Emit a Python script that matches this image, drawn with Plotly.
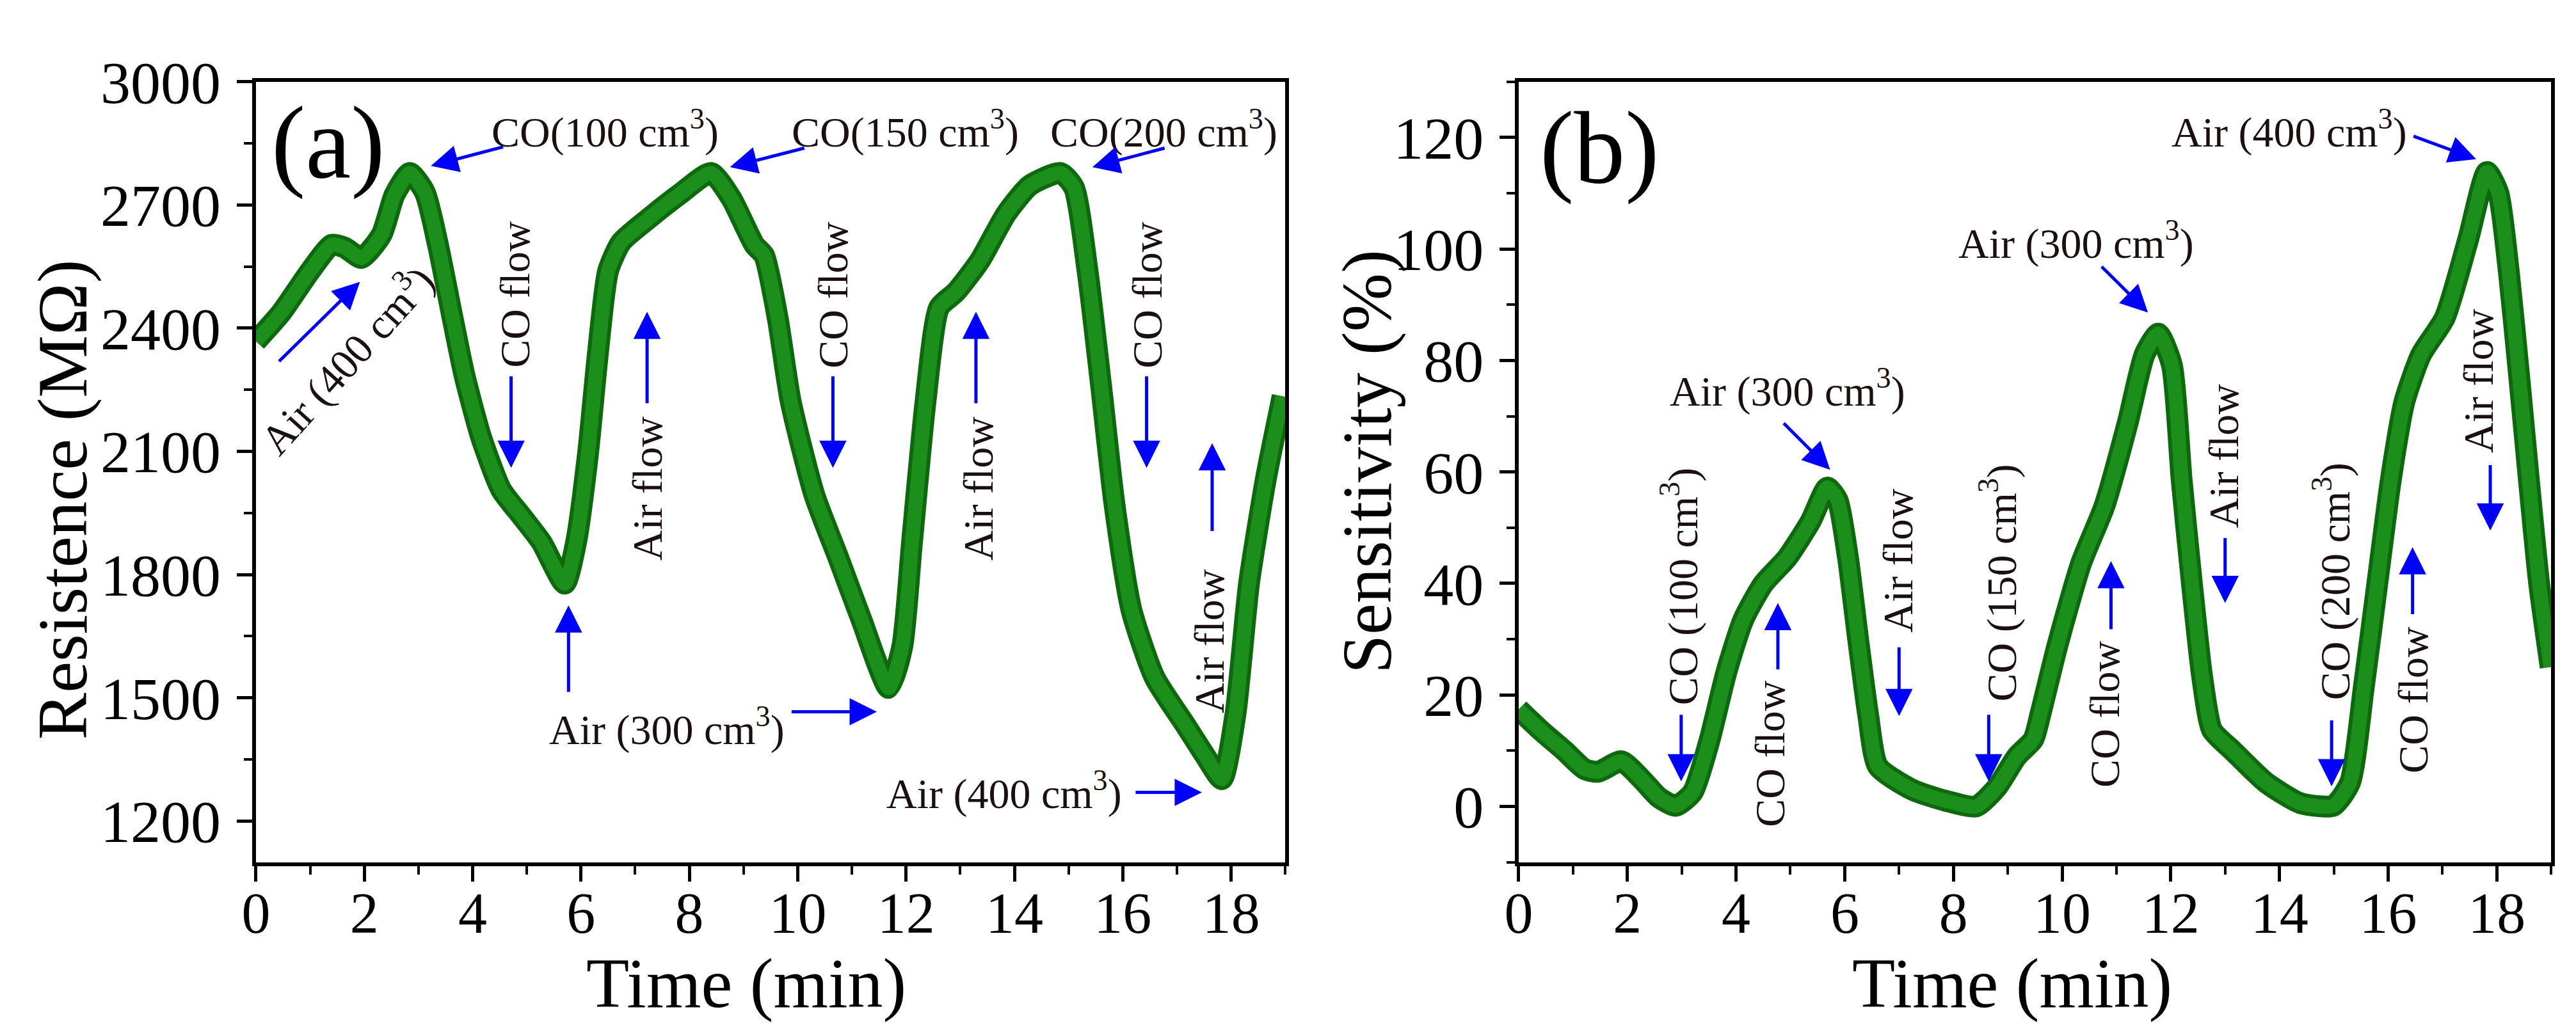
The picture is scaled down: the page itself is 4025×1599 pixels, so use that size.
import plotly.graph_objects as go

# ---- data ----
# panel (a): resistance vs time
time_a = [0, 0.47, 1.0, 1.4, 1.64, 1.95, 2.32, 2.56, 2.84, 3.12, 3.36, 3.61, 3.85, 4.16,
          4.53, 4.9, 5.27, 5.7, 5.91, 6.13, 6.31, 6.5, 6.74, 7.24, 7.85, 8.4, 8.77, 9.2,
          9.38, 9.63, 9.87, 10.31, 10.75, 11.18, 11.68, 11.93, 12.11, 12.36, 12.61, 12.92,
          13.36, 13.85, 14.29, 14.85, 15.1, 15.35, 15.6, 15.85, 16.16, 16.59, 17.15, 17.52,
          17.83, 18.08, 18.33, 18.64, 18.95]
resistance = [2368, 2438, 2539, 2603, 2596, 2571, 2628, 2725, 2778, 2730, 2603, 2438, 2285,
              2133, 2006, 1943, 1879, 1778, 1879, 2095, 2336, 2539, 2609, 2666, 2729, 2778,
              2717, 2603, 2577, 2425, 2222, 1993, 1841, 1689, 1524, 1625, 1879, 2222, 2450,
              2488, 2564, 2679, 2748, 2778, 2742, 2539, 2260, 1968, 1714, 1549, 1435, 1359,
              1302, 1460, 1778, 2032, 2234]

# panel (b): sensitivity vs time
time_b = [0, 0.4, 0.84, 1.21, 1.46, 1.89, 2.27, 2.58, 2.89, 3.2, 3.51, 3.82, 4.13, 4.5,
          4.94, 5.37, 5.68, 5.87, 6.06, 6.24, 6.43, 6.61, 7.24, 7.86, 8.42, 8.8, 9.17, 9.47,
          9.6, 9.91, 10.35, 10.78, 11.21, 11.52, 11.77, 12.02, 12.2, 12.39, 12.58, 12.76,
          13.14, 13.75, 14.38, 14.99, 15.3, 15.55, 15.8, 16.05, 16.3, 16.61, 17.04, 17.47,
          17.82, 18.03, 18.22, 18.41, 18.59, 18.78, 18.99]
sensitivity = [17.4, 13.7, 10.0, 6.7, 6.2, 8.1, 4.8, 1.6, 0.1, 2.5, 11.8, 24.0, 33.4, 39.9,
               44.6, 51.1, 57.2, 54.9, 44.6, 30.5, 16.5, 7.2, 3.0, 1.0, 0.0, 3.4, 9.0, 12.0,
               16.5, 28.7, 43.6, 53.9, 68.9, 81.1, 84.8, 79.2, 58.6, 39.9, 23.1, 13.7, 10.0,
               4.3, 0.6, 0.1, 4.3, 21.2, 39.9, 58.6, 72.6, 81.1, 87.6, 101.6, 113.8, 110.0,
               96.0, 77.3, 58.6, 39.9, 25.0]

x_ticks = [0, 2, 4, 6, 8, 10, 12, 14, 16, 18]
ya_ticks = [1200, 1500, 1800, 2100, 2400, 2700, 3000]
yb_ticks = [0, 20, 40, 60, 80, 100, 120]

# labels: (text, x, y, angle, panel)
labels = [
    ("CO(100 cm<sup>3</sup>)", 6.44, 2884, 0, "a"),
    ("CO(150 cm<sup>3</sup>)", 11.99, 2884, 0, "a"),
    ("CO(200 cm<sup>3</sup>)", 16.76, 2884, 0, "a"),
    ("Air (400 cm<sup>3</sup>)", 1.66, 2326, -48, "a"),
    ("CO flow", 4.78, 2482, -90, "a"),
    ("CO flow", 10.65, 2482, -90, "a"),
    ("CO flow", 16.45, 2482, -90, "a"),
    ("Air flow", 7.22, 2010, -90, "a"),
    ("Air flow", 13.33, 2010, -90, "a"),
    ("Air flow", 17.59, 1638, -90, "a"),
    ("Air (300 cm<sup>3</sup>)", 7.58, 1429, 0, "a"),
    ("Air (400 cm<sup>3</sup>)", 13.81, 1273, 0, "a"),
    ("Air (300 cm<sup>3</sup>)", 4.95, 75.0, 0, "b"),
    ("Air (300 cm<sup>3</sup>)", 10.26, 101.5, 0, "b"),
    ("Air (400 cm<sup>3</sup>)", 14.18, 121.5, 0, "b"),
    ("CO (100 cm<sup>3</sup>)", 2.97, 39.4, -90, "b"),
    ("CO (150 cm<sup>3</sup>)", 8.84, 40.1, -90, "b"),
    ("CO (200 cm<sup>3</sup>)", 14.98, 40.4, -90, "b"),
    ("CO flow", 4.63, 9.5, -90, "b"),
    ("CO flow", 10.79, 16.6, -90, "b"),
    ("CO flow", 16.45, 19.1, -90, "b"),
    ("Air flow", 6.97, 44.1, -90, "b"),
    ("Air flow", 12.97, 62.9, -90, "b"),
    ("Air flow", 17.66, 76.4, -90, "b"),
]

# arrows: (tail x, tail y, tip x, tip y, panel)
arrows = [
    (4.58, 2842, 3.23, 2795, "a"),
    (10.14, 2839, 8.75, 2792, "a"),
    (16.79, 2839, 15.44, 2792, "a"),
    (0.41, 2317, 1.92, 2513, "a"),
    (4.71, 2285, 4.71, 2060, "a"),
    (10.65, 2285, 10.65, 2060, "a"),
    (16.44, 2285, 16.44, 2060, "a"),
    (7.22, 2215, 7.22, 2440, "a"),
    (13.29, 2215, 13.29, 2440, "a"),
    (17.65, 1904, 17.65, 2120, "a"),
    (5.77, 1512, 5.77, 1725, "a"),
    (9.87, 1466, 11.46, 1466, "a"),
    (16.22, 1270, 17.46, 1270, "a"),
    (4.86, 68.9, 5.73, 60.4, "b"),
    (10.71, 97.0, 11.58, 88.6, "b"),
    (16.45, 120.3, 17.62, 116.1, "b"),
    (2.99, 16.6, 2.99, 4.5, "b"),
    (8.65, 16.6, 8.65, 4.5, "b"),
    (14.96, 15.6, 14.96, 3.6, "b"),
    (4.77, 24.4, 4.77, 36.5, "b"),
    (10.9, 31.6, 10.9, 44.0, "b"),
    (16.45, 34.3, 16.45, 46.5, "b"),
    (7.0, 28.7, 7.0, 16.2, "b"),
    (13.0, 48.3, 13.0, 36.5, "b"),
    (17.88, 61.4, 17.88, 49.5, "b"),
]

FONT = "Liberation Serif"
GREEN_DARK = "rgb(12,105,12)"
GREEN = "rgb(28,142,28)"
BLUE = "rgb(0,0,255)"

fig = go.Figure()

for xs, ys, xa, ya in [(time_a, resistance, "x", "y"), (time_b, sensitivity, "x2", "y2")]:
    # thick band: darker outer stroke with a lighter core
    fig.add_trace(go.Scatter(x=xs, y=ys, xaxis=xa, yaxis=ya, mode="lines",
                             line=dict(color=GREEN_DARK, width=34, shape="spline", smoothing=0.6),
                             hoverinfo="skip"))
    fig.add_trace(go.Scatter(x=xs, y=ys, xaxis=xa, yaxis=ya, mode="lines",
                             line=dict(color=GREEN, width=22, shape="spline", smoothing=0.6),
                             hoverinfo="skip"))

axis_common = dict(
    showline=True, linecolor="black", linewidth=6, mirror=True,
    ticks="outside", ticklen=24, tickwidth=5, tickcolor="black",
    showgrid=False, zeroline=False,
)
x_font = dict(family=FONT, size=90, color="black")
y_font = dict(family=FONT, size=94, color="black")
minor_x = dict(dtick=1, tick0=0, ticks="outside", ticklen=13, tickwidth=4, tickcolor="black")

fig.update_layout(
    width=4025, height=1599,
    margin=dict(l=0, r=0, t=0, b=0),
    paper_bgcolor="white", plot_bgcolor="white",
    showlegend=False,
    xaxis=dict(domain=[0.0924, 0.4942], range=[0, 19], tickvals=x_ticks, anchor="y",
               tickfont=x_font, ticklabelstandoff=-28, minor=minor_x, **axis_common),
    yaxis=dict(domain=[0.1676, 0.9556], range=[1100, 3000], tickvals=ya_ticks, anchor="x",
               tickfont=y_font, ticklabelstandoff=6,
               minor=dict(dtick=150, tick0=1200, ticks="outside", ticklen=13, tickwidth=4, tickcolor="black"),
               **axis_common),
    xaxis2=dict(domain=[0.5853, 0.9883], range=[0, 19], tickvals=x_ticks, anchor="y2",
                tickfont=x_font, ticklabelstandoff=-28, minor=minor_x, **axis_common),
    yaxis2=dict(domain=[0.1676, 0.9556], range=[-10, 130], tickvals=yb_ticks, anchor="x2",
                tickfont=y_font, ticklabelstandoff=6,
                minor=dict(dtick=10, tick0=0, ticks="outside", ticklen=13, tickwidth=4, tickcolor="black"),
                **axis_common),
)

refs = {"a": ("x", "y"), "b": ("x2", "y2")}

for text, x, y, ang, p in labels:
    xr, yr = refs[p]
    fig.add_annotation(x=x, y=y, xref=xr, yref=yr, text=text, textangle=ang,
                       showarrow=False, xanchor="center", yanchor="middle",
                       font=dict(family=FONT, size=66, color="#1a1010"))

for tx, ty, hx, hy, p in arrows:
    xr, yr = refs[p]
    fig.add_annotation(x=hx, y=hy, xref=xr, yref=yr, ax=tx, ay=ty, axref=xr, ayref=yr,
                       text="", showarrow=True, arrowhead=2, arrowsize=1.7,
                       arrowwidth=5, arrowcolor=BLUE, standoff=0, startstandoff=0)

# panel tags
tag_font = dict(family=FONT, size=160, color="black")
fig.add_annotation(x=0.26, y=2851, xref="x", yref="y", text="(a)", showarrow=False,
                   xanchor="left", yanchor="middle", font=tag_font)
fig.add_annotation(x=0.36, y=118.1, xref="x2", yref="y2", text="(b)", showarrow=False,
                   xanchor="left", yanchor="middle", font=tag_font)

# axis titles
title_font = dict(family=FONT, size=110, color="black")
for x, y, text, ang in [(0.2838, 0.045, "Time (min)", 0),
                        (0.778, 0.045, "Time (min)", 0),
                        (0.0172, 0.534, "Resistence (MΩ)", -90),
                        (0.526, 0.572, "Sensitivity (%)", -90)]:
    fig.add_annotation(x=x, y=y, xref="paper", yref="paper", text=text, textangle=ang,
                       showarrow=False, xanchor="center", yanchor="middle", font=title_font)

fig.write_html("out.html")
